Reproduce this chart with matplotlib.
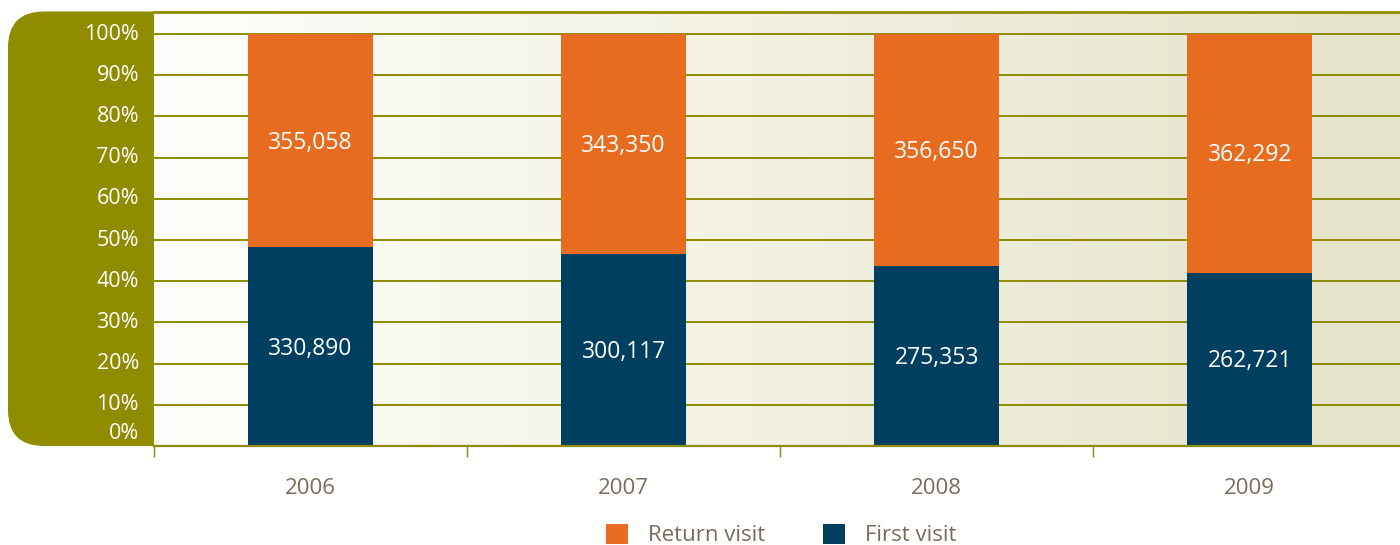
#!/usr/bin/env python3
"""Return vs first visits per year, as 100% stacked bars."""
import matplotlib
matplotlib.use("Agg")
import matplotlib.pyplot as plt
import numpy as np
from matplotlib.patches import FancyBboxPatch, Patch
from matplotlib.colors import LinearSegmentedColormap

years = ["2006", "2007", "2008", "2009"]
first_visit = [330890, 300117, 275353, 262721]
return_visit = [355058, 343350, 356650, 362292]
ytick_values = [0, 10, 20, 30, 40, 50, 60, 70, 80, 90, 100]

OLIVE = "#8f8c00"
ORANGE = "#e86c1f"
NAVY = "#003f5f"
BROWN = "#7b6b5a"

plt.rcParams["font.family"] = ["Open Sans", "DejaVu Sans"]

W, H = 1400, 545
fig = plt.figure(figsize=(W / 100, H / 100), dpi=100)

# pixel-space backdrop for the olive panel (rounded on the left side)
bg = fig.add_axes([0, 0, 1, 1], zorder=0)
bg.set_xlim(0, W)
bg.set_ylim(H, 0)
bg.axis("off")
bg.add_patch(FancyBboxPatch((8, 11.5), 300, 434.5,
                            boxstyle="round,pad=0,rounding_size=36",
                            facecolor=OLIVE, edgecolor="none"))

ax = fig.add_axes([154 / W, 1 - 446 / H, 1 - 154 / W, (446 - 12) / H], zorder=2)

first = np.array(first_visit, dtype=float)
ret = np.array(return_visit, dtype=float)
tot = first + ret
first_pct = first / tot * 100
ret_pct = ret / tot * 100

x = np.arange(len(years))
ax.set_xlim(-0.5, 3.48)
ax.set_ylim(0, 105.34)

# gradient background
cmap = LinearSegmentedColormap.from_list("bg", ["#fefefc", "#e5e3c8"])
ax.imshow(np.linspace(0, 1, 256)[None, :], cmap=cmap, aspect="auto",
          extent=(-0.5, 3.48, 0, 105.34), zorder=0)

for v in ytick_values[1:]:
    ax.axhline(v, color=OLIVE, lw=1.4, zorder=1)
ax.axhline(105.34, color=OLIVE, lw=2, zorder=1, clip_on=False)

ax.bar(x, first_pct, width=0.4, color=NAVY, zorder=3)
ax.bar(x, ret_pct, width=0.4, bottom=first_pct, color=ORANGE, zorder=3)

for i in range(len(years)):
    ax.text(x[i], first_pct[i] / 2 - 0.5, f"{first_visit[i]:,}", ha="center",
            va="center", color="white", fontsize=16.5, zorder=4)
    ax.text(x[i], first_pct[i] + ret_pct[i] / 2 - 0.5, f"{return_visit[i]:,}",
            ha="center", va="center", color="white", fontsize=16.5, zorder=4)

# y labels in the olive panel (0% nudged up off the bottom edge)
ytrans = matplotlib.transforms.blended_transform_factory(fig.transFigure, ax.transData)
for v in ytick_values:
    ax.text(139 / W, v if v > 0 else 3, f"{v}%", transform=ytrans, ha="right",
            va="center", color="white", fontsize=15.5, clip_on=False)

for s in ["top", "right", "left"]:
    ax.spines[s].set_visible(False)
ax.spines["bottom"].set_color(OLIVE)
ax.spines["bottom"].set_linewidth(1.6)
ax.spines["bottom"].set_zorder(5)

ax.set_yticks([])
ax.set_xticks(np.arange(-0.5, 3, 1.0), [""] * 4)
ax.tick_params(axis="x", which="major", length=8, width=1, color=OLIVE)
ax.set_xticks(x, years, minor=True)
ax.tick_params(axis="x", which="minor", length=0, pad=23, labelsize=16,
               labelcolor=BROWN)

handles = [Patch(facecolor=ORANGE, label="Return visit"),
           Patch(facecolor=NAVY, label="First visit")]
fig.legend(handles=handles, loc="center", bbox_to_anchor=(781 / W, 1 - 535 / H),
           ncol=2, frameon=False, fontsize=16, labelcolor=BROWN,
           handlelength=1.0, handleheight=1.0, handletextpad=0.9,
           columnspacing=2.6)

fig.savefig("out.png", dpi=100)
